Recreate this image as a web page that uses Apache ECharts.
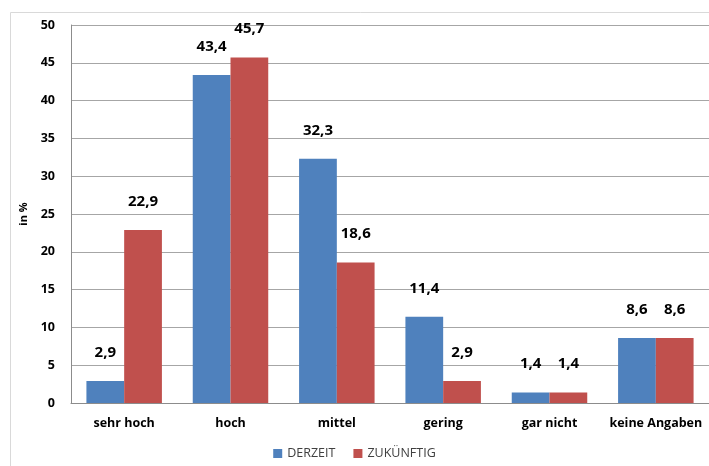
<!DOCTYPE html>
<html>
<head>
<meta charset="utf-8">
<script src="https://cdn.jsdelivr.net/npm/echarts@6/dist/echarts.min.js"></script>
<style>
  html, body { margin: 0; padding: 0; background: #fff; }
  #chart { width: 709px; height: 466px; }
</style>
</head>
<body>
<div id="chart"></div>
<script>
// Kategorien und Werte (in %)
const categories = ['sehr hoch', 'hoch', 'mittel', 'gering', 'gar nicht', 'keine Angaben']
const derzeit = [2.9, 43.4, 32.3, 11.4, 1.4, 8.6]
const zukuenftig = [22.9, 45.7, 18.6, 2.9, 1.4, 8.6]
const yTicks = [0, 5, 10, 15, 20, 25, 30, 35, 40, 45, 50]

const font = '"Open Sans", "Liberation Sans", sans-serif'

const labelFmt = function (p) {
  return String(p.value).replace('.', ',')
}

const myChart = echarts.init(document.getElementById('chart'))
const option = {
  animation: false,
  textStyle: { fontFamily: font },
  graphic: [{
    type: 'rect',
    shape: { x: 10.5, y: 12.5, width: 720, height: 470 },
    style: { fill: 'none', stroke: '#d9d9d9', lineWidth: 1 },
    silent: true
  }],
  grid: {
    left: 71,
    top: 25,
    width: 642,
    height: 378
  },
  legend: {
    bottom: 1,
    left: 'center',
    itemWidth: 9,
    itemHeight: 9,
    itemGap: 18,
    icon: 'rect',
    textStyle: { color: '#404040', fontSize: 12.5, fontFamily: font },
    data: ['DERZEIT', 'ZUKÜNFTIG']
  },
  xAxis: {
    type: 'category',
    data: categories,
    axisLine: { lineStyle: { color: '#8c8c8c' } },
    axisTick: { show: false },
    axisLabel: {
      interval: 0,
      color: '#000',
      fontWeight: 'bold',
      fontSize: 12.5,
      margin: 14,
      fontFamily: font
    }
  },
  yAxis: {
    type: 'value',
    min: yTicks[0],
    max: yTicks[yTicks.length - 1],
    interval: 5,
    name: 'in %',
    nameLocation: 'middle',
    nameRotate: 90,
    nameGap: 38,
    nameTextStyle: { color: '#000', fontWeight: 'bold', fontSize: 11, fontFamily: font },
    axisLine: { show: true, lineStyle: { color: '#8c8c8c' } },
    axisTick: { show: false },
    axisLabel: {
      color: '#000',
      fontWeight: 'bold',
      fontSize: 12.5,
      margin: 16,
      fontFamily: font
    },
    splitLine: { lineStyle: { color: '#a6a6a6' } }
  },
  series: [
    {
      name: 'DERZEIT',
      type: 'bar',
      data: derzeit,
      barGap: '0%',
      barCategoryGap: '29%',
      itemStyle: { color: '#4F81BD' },
      label: {
        show: true,
        position: 'top',
        distance: 21,
        color: '#000',
        fontWeight: 'bold',
        fontSize: 15,
        fontFamily: font,
        formatter: labelFmt
      }
    },
    {
      name: 'ZUKÜNFTIG',
      type: 'bar',
      data: zukuenftig,
      itemStyle: { color: '#C0504D' },
      label: {
        show: true,
        position: 'top',
        distance: 21,
        color: '#000',
        fontWeight: 'bold',
        fontSize: 15,
        fontFamily: font,
        formatter: labelFmt
      }
    }
  ]
}
myChart.setOption(option)
window.addEventListener('resize', function () {
  myChart.resize()
})
</script>
</body>
</html>
